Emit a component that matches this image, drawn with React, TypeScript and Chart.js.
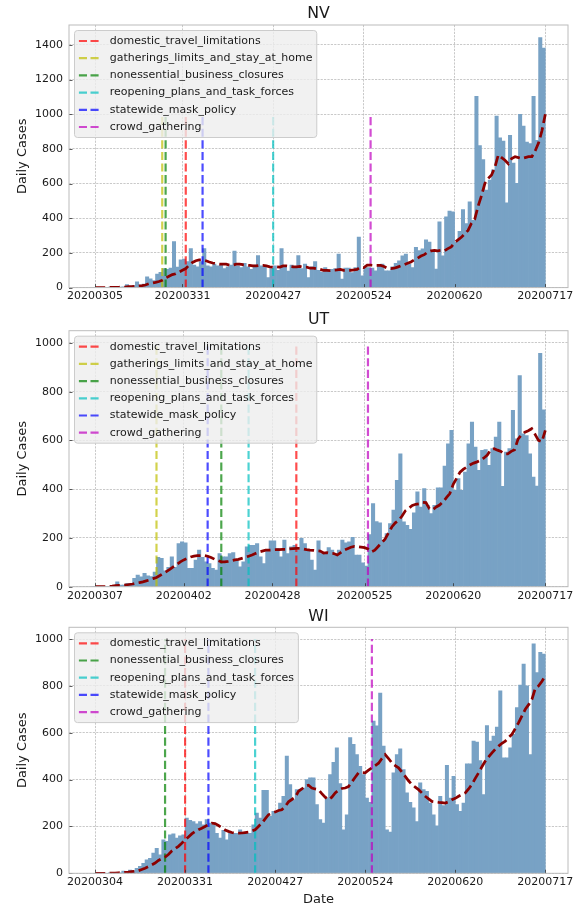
import React, { useEffect, useRef } from 'react';
import { Chart, registerables } from 'chart.js';

Chart.register(...registerables);

const FONT = "'DejaVu Sans', 'Liberation Sans', sans-serif";
const TEXT_COLOR = '#1a1a1a';

// ---------- shared policy definitions ----------
const policyNames = [
  'domestic_travel_limitations',
  'gatherings_limits_and_stay_at_home',
  'nonessential_business_closures',
  'reopening_plans_and_task_forces',
  'statewide_mask_policy',
  'crowd_gathering',
];
const policyColors = [
  'rgba(255,0,0,0.7)',
  'rgba(191,191,0,0.7)',
  'rgba(0,128,0,0.7)',
  'rgba(0,191,191,0.7)',
  'rgba(0,0,255,0.7)',
  'rgba(191,0,191,0.7)',
];
const policyTop = 1000;
const yTickStep = 200;

// ---------- NV ----------
const nvTickIdx = [0, 26, 53, 80, 107, 134];
const nvTickLabels = ['20200305', '20200331', '20200427', '20200524', '20200620', '20200717'];
const nvPolicyDays = [27, 20, 21, 53, 32, 82];
const nvCases = [
  1, 0, 1, 2, 1, 3, 2, 4, 3, 5,
  18, 8, 12, 33, 15, 20, 62, 50, 40, 78,
  88, 110, 105, 112, 266, 118, 160, 165, 150, 225,
  130, 120, 150, 225, 125, 120, 135, 125, 130, 110,
  120, 130, 210, 125, 115, 140, 120, 105, 130, 185,
  125, 120, 58, 110, 125, 100, 225, 120, 95, 130,
  120, 185, 110, 136, 58, 120, 150, 100, 90, 115,
  95, 105, 110, 194, 49, 113, 113, 87, 116, 291,
  68, 116, 116, 113, 97, 126, 136, 97, 97, 120,
  140, 155, 184, 194, 136, 116, 233, 214, 223, 276,
  262, 214, 107, 379, 184, 408, 441, 437, 262, 324,
  450, 369, 495, 388, 1103, 819, 738, 563, 621, 680,
  990, 864, 845, 489, 878, 718, 602, 1000, 932, 839,
  831, 1103, 850, 1443, 1382,
];
const nvAvg = [
  0, 0, 0, 0, 1, 1, 2, 2, 3, 3,
  5, 6, 7, 10, 12, 15, 22, 26, 30, 35,
  42, 55, 65, 75, 80, 90, 100, 110, 130, 145,
  155, 160, 160, 155, 148, 142, 138, 136, 135, 135,
  130, 130, 135, 135, 132, 130, 128, 125, 125, 128,
  128, 125, 120, 118, 120, 118, 125, 125, 122, 120,
  120, 122, 118, 118, 112, 112, 108, 105, 100, 100,
  98, 100, 102, 105, 100, 100, 100, 102, 105, 118,
  115, 130, 130, 128, 128, 128, 122, 112, 110, 112,
  118, 125, 132, 140, 148, 160, 170, 182, 190, 205,
  212, 215, 212, 215, 212, 225, 235, 260, 275, 290,
  310, 330, 370, 395, 470, 530, 600, 630, 650, 695,
  765, 750, 735, 715, 745, 755, 750, 745, 750, 755,
  755, 790, 835, 905, 1000,
];

// ---------- UT ----------
const utTickIdx = [0, 26, 52, 79, 105, 132];
const utTickLabels = ['20200307', '20200402', '20200428', '20200525', '20200620', '20200717'];
const utPolicyDays = [59, 18, 37, 45, 33, 80];
const utCases = [
  0, 0, 1, 0, 1, 2, 3, 20, 7, 7,
  14, 14, 34, 48, 40, 55, 45, 42, 60, 120,
  116, 65, 79, 123, 79, 177, 184, 180, 75, 75,
  109, 150, 120, 102, 95, 75, 68, 136, 123, 123,
  136, 140, 109, 82, 102, 164, 170, 170, 177, 123,
  95, 150, 188, 188, 157, 123, 191, 136, 164, 170,
  150, 198, 177, 150, 109, 68, 188, 136, 136, 160,
  150, 136, 150, 191, 180, 184, 202, 130, 130, 98,
  85, 214, 341, 267, 262, 191, 218, 259, 314, 436,
  545, 266, 252, 235, 303, 389, 327, 402, 334, 300,
  334, 406, 406, 495, 586, 641, 395, 443, 395, 470,
  586, 675, 573, 477, 559, 562, 498, 566, 614, 675,
  412, 552, 566, 723, 607, 866, 627, 620, 545, 450,
  413, 957, 725,
];
const utAvg = [
  0, 0, 0, 0, 1, 2, 4, 5, 6, 7,
  9, 11, 14, 17, 20, 24, 28, 33, 38, 46,
  55, 63, 72, 82, 92, 102, 110, 116, 122, 125,
  127, 128, 128, 125, 120, 113, 107, 102, 102, 104,
  107, 110, 112, 116, 120, 125, 130, 136, 142, 146,
  150, 150, 151, 152, 152, 153, 153, 155, 156, 157,
  157, 155, 152, 150, 149, 147, 146, 138, 140, 137,
  136, 130, 140, 150, 156, 162, 165, 164, 162, 160,
  155, 143, 150, 165, 180, 195, 220, 245, 262, 272,
  290, 312, 322, 333, 338, 340, 346, 345, 320, 316,
  327, 335, 348, 365, 382, 420, 445, 470, 482, 491,
  500, 507, 512, 518, 528, 540, 562, 566, 560, 555,
  545, 545, 555, 562, 605, 622, 634, 640, 648, 625,
  600, 595, 641,
];

// ---------- WI ----------
const wiTickIdx = [0, 27, 54, 81, 108, 135];
const wiTickLabels = ['20200304', '20200331', '20200427', '20200524', '20200620', '20200717'];
const wiPolicyDays = [27, null, 21, 48, 34, 83];
const wiCases = [
  0, 0, 0, 1, 0, 2, 1, 3, 2, 10,
  6, 14, 12, 21, 30, 43, 57, 64, 86, 107,
  79, 143, 136, 164, 169, 150, 160, 164, 236, 226,
  221, 211, 221, 207, 229, 214, 207, 171, 150, 183,
  143, 171, 171, 171, 186, 171, 171, 171, 207, 257,
  236, 354, 354, 243, 264, 260, 300, 329, 500, 379,
  314, 357, 357, 364, 400, 407, 407, 293, 229, 214,
  321, 421, 474, 536, 383, 186, 250, 579, 550, 507,
  457, 421, 321, 303, 650, 629, 769, 543, 186, 176,
  429, 507, 531, 443, 343, 303, 279, 221, 386, 357,
  350, 300, 250, 203, 329, 289, 461, 321, 414, 293,
  264, 300, 467, 467, 564, 560, 481, 336, 631, 564,
  586, 624, 779, 493, 493, 536, 593, 707, 803, 893,
  800, 507, 979, 857, 943, 936,
];
const wiAvg = [
  0, 0, 0, 0, 0, 1, 1, 2, 3, 4,
  5, 7, 9, 11, 16, 22, 29, 36, 44, 55,
  62, 69, 80, 95, 105, 115, 128, 142, 155, 168,
  178, 186, 192, 200, 208, 214, 212, 204, 195, 185,
  179, 174, 171, 171, 172, 174, 176, 180, 186, 200,
  214, 232, 250, 257, 262, 268, 271, 285, 305, 315,
  325, 350, 360, 372, 376, 364, 360, 357, 340, 325,
  314, 325, 343, 355, 362, 364, 370, 390, 410, 429,
  430, 429, 440, 450, 460, 470, 490, 507, 490, 471,
  460, 450, 432, 414, 395, 379, 368, 357, 343, 329,
  318, 307, 305, 303, 302, 300, 305, 314, 320, 329,
  336, 343, 360, 379, 405, 429, 455, 479, 497, 514,
  530, 543, 555, 564, 580, 593, 618, 643, 672, 700,
  720, 743, 790, 800, 820, 843,
];

// ---------- layout (pixels) ----------
const AREA_LEFT = 69;
const AREA_RIGHT = 568;
const FIG_W = 580;

interface PanelSpec {
  title: string;
  cases: number[];
  avg: number[];
  tickIdx: number[];
  tickLabels: string[];
  policyDays: (number | null)[];
  top: number;
  height: number;
  areaTop: number;
  areaBottom: number;
  xLabel?: string;
}

const panels: PanelSpec[] = [
  { title: 'NV', cases: nvCases, avg: nvAvg, tickIdx: nvTickIdx, tickLabels: nvTickLabels, policyDays: nvPolicyDays, top: 0, height: 308, areaTop: 25, areaBottom: 287.6 },
  { title: 'UT', cases: utCases, avg: utAvg, tickIdx: utTickIdx, tickLabels: utTickLabels, policyDays: utPolicyDays, top: 308, height: 297, areaTop: 22.7, areaBottom: 278.7 },
  { title: 'WI', cases: wiCases, avg: wiAvg, tickIdx: wiTickIdx, tickLabels: wiTickLabels, policyDays: wiPolicyDays, top: 605, height: 302, areaTop: 22.3, areaBottom: 268.3, xLabel: 'Date' },
];

function buildConfig(p: PanelSpec): any {
  const n = p.cases.length;
  const xMin = -1 - 0.05 * n;
  const xMax = n - 1 + 0.05 * n;
  const yMax = Math.max(Math.max(...p.cases), policyTop) * 1.05;
  const yTicks: number[] = [];
  for (let v = 0; v <= yMax; v += yTickStep) yTicks.push(v);

  const datasets: any[] = [];
  datasets.push({
    type: 'line',
    label: 'rolling',
    data: p.avg.map((v, i) => ({ x: i, y: v })),
    borderColor: '#8b0000',
    borderWidth: 2.75,
    borderDash: [10.2, 4.4],
    borderCapStyle: 'butt',
    pointRadius: 0,
    fill: false,
    tension: 0,
    order: 0,
  });
  policyNames.forEach((name, k) => {
    const d = p.policyDays[k];
    if (d == null) return;
    datasets.push({
      type: 'line',
      label: name,
      data: [{ x: d, y: 0 }, { x: d, y: policyTop }],
      borderColor: policyColors[k],
      borderWidth: 2.2,
      borderDash: [8.1, 3.5],
      borderCapStyle: 'butt',
      pointRadius: 0,
      fill: false,
      order: 1,
    });
  });
  datasets.push({
    type: 'bar',
    label: 'cases',
    data: p.cases.map((v, i) => ({ x: i - 0.5, y: v })),
    backgroundColor: 'rgb(120,162,197)',
    borderWidth: 0,
    barPercentage: 1,
    categoryPercentage: 1,
    order: 2,
  });

  const legendItems = policyNames
    .map((name, k) => ({ name, color: policyColors[k], day: p.policyDays[k] }))
    .filter((it) => it.day != null);

  const decor = {
    id: 'decor',
    afterDatasetsDraw(chart: any) {
      const { ctx, chartArea: a, scales } = chart;
      const x = scales.x;
      const y = scales.y;
      ctx.save();
      ctx.strokeStyle = '#333333';
      ctx.lineWidth = 0.8;
      ctx.setLineDash([]);
      ctx.beginPath();
      p.tickIdx.forEach((v) => {
        const px = Math.round(x.getPixelForValue(v)) + 0.5;
        ctx.moveTo(px, a.bottom);
        ctx.lineTo(px, a.bottom - 3.5);
      });
      yTicks.forEach((v) => {
        const py = Math.round(y.getPixelForValue(v)) + 0.5;
        ctx.moveTo(a.left, py);
        ctx.lineTo(a.left + 3.5, py);
      });
      ctx.stroke();
      ctx.strokeStyle = '#bcbcbc';
      ctx.lineWidth = 1;
      ctx.strokeRect(a.left, a.top, a.right - a.left, a.bottom - a.top);
      ctx.restore();
    },
    afterDraw(chart: any) {
      const { ctx, chartArea: a } = chart;
      ctx.save();
      // legend
      ctx.font = `11px ${FONT}`;
      const maxW = Math.max(...legendItems.map((it) => ctx.measureText(it.name).width));
      const bx = a.left + 5.5;
      const by = a.top + 5.5;
      const bw = 4.4 + 22 + 8.8 + maxW + 4.4;
      const pitch = 17.2;
      const bh = 10.5 * 2 + (legendItems.length - 1) * pitch;
      ctx.beginPath();
      if (ctx.roundRect) ctx.roundRect(bx, by, bw, bh, 3);
      else ctx.rect(bx, by, bw, bh);
      ctx.fillStyle = 'rgba(238,238,238,0.8)';
      ctx.fill();
      ctx.strokeStyle = '#cccccc';
      ctx.lineWidth = 1;
      ctx.stroke();
      legendItems.forEach((it, k) => {
        const cy = by + 10.5 + k * pitch;
        ctx.strokeStyle = it.color;
        ctx.lineWidth = 2.2;
        ctx.setLineDash([8.1, 3.5]);
        ctx.beginPath();
        ctx.moveTo(bx + 4.4, cy);
        ctx.lineTo(bx + 4.4 + 22, cy);
        ctx.stroke();
        ctx.setLineDash([]);
        ctx.fillStyle = TEXT_COLOR;
        ctx.textAlign = 'left';
        ctx.textBaseline = 'middle';
        ctx.fillText(it.name, bx + 4.4 + 22 + 8.8, cy);
      });
      // title
      ctx.font = `15.8px ${FONT}`;
      ctx.fillStyle = TEXT_COLOR;
      ctx.textAlign = 'center';
      ctx.textBaseline = 'alphabetic';
      ctx.fillText(p.title, (a.left + a.right) / 2, a.top - 6.6);
      // y label
      ctx.font = `13px ${FONT}`;
      ctx.save();
      ctx.translate(23, (a.top + a.bottom) / 2);
      ctx.rotate(-Math.PI / 2);
      ctx.textAlign = 'center';
      ctx.textBaseline = 'middle';
      ctx.fillText('Daily Cases', 0, 0);
      ctx.restore();
      // x label
      if (p.xLabel) {
        ctx.textAlign = 'center';
        ctx.textBaseline = 'middle';
        ctx.fillText(p.xLabel, (a.left + a.right) / 2, 900 - p.top);
      }
      ctx.restore();
    },
  };

  const tickFont = { family: FONT, size: 11 };

  return {
    type: 'bar',
    data: { datasets },
    options: {
      animation: false,
      responsive: false,
      maintainAspectRatio: false,
      events: [],
      layout: { padding: { left: 0, right: FIG_W - AREA_RIGHT, top: p.areaTop, bottom: 0 } },
      plugins: {
        legend: { display: false },
        tooltip: { enabled: false },
        title: { display: false },
      },
      scales: {
        x: {
          type: 'linear',
          min: xMin,
          max: xMax,
          offset: false,
          bounds: 'data',
          grid: { color: '#b2b2b2', lineWidth: 0.7, drawTicks: false, offset: false },
          border: { display: false, dash: [2.2, 1.2] },
          ticks: {
            autoSkip: false,
            maxRotation: 0,
            minRotation: 0,
            padding: 2.4,
            font: tickFont,
            color: TEXT_COLOR,
            callback: (v: number) => {
              const k = p.tickIdx.indexOf(v);
              return k >= 0 ? p.tickLabels[k] : '';
            },
          },
          afterBuildTicks: (s: any) => {
            s.ticks = p.tickIdx.map((v) => ({ value: v }));
          },
          afterFit: (s: any) => {
            s.height = p.height - p.areaBottom;
          },
        },
        y: {
          type: 'linear',
          min: 0,
          max: yMax,
          bounds: 'data',
          grid: { color: '#b2b2b2', lineWidth: 0.7, drawTicks: false },
          border: { display: false, dash: [2.2, 1.2] },
          ticks: {
            padding: 6,
            font: tickFont,
            color: TEXT_COLOR,
            callback: (v: number) => String(v),
          },
          afterBuildTicks: (s: any) => {
            s.ticks = yTicks.map((v) => ({ value: v }));
          },
          afterFit: (s: any) => {
            s.width = AREA_LEFT;
          },
        },
      },
    },
    plugins: [decor],
  };
}

function Panel({ p }: { p: PanelSpec }) {
  const ref = useRef<HTMLCanvasElement>(null);
  useEffect(() => {
    if (!ref.current) return;
    const chart = new Chart(ref.current, buildConfig(p));
    return () => chart.destroy();
  }, [p]);
  return (
    <canvas
      ref={ref}
      width={FIG_W}
      height={p.height}
      style={{ position: 'absolute', left: 0, top: p.top, width: FIG_W, height: p.height }}
    />
  );
}

export default function App() {
  return (
    <div style={{ position: 'absolute', left: 0, top: 0, width: FIG_W, height: 907, background: '#ffffff', overflow: 'hidden' }}>
      {panels.map((p) => (
        <Panel key={p.title} p={p} />
      ))}
    </div>
  );
}
